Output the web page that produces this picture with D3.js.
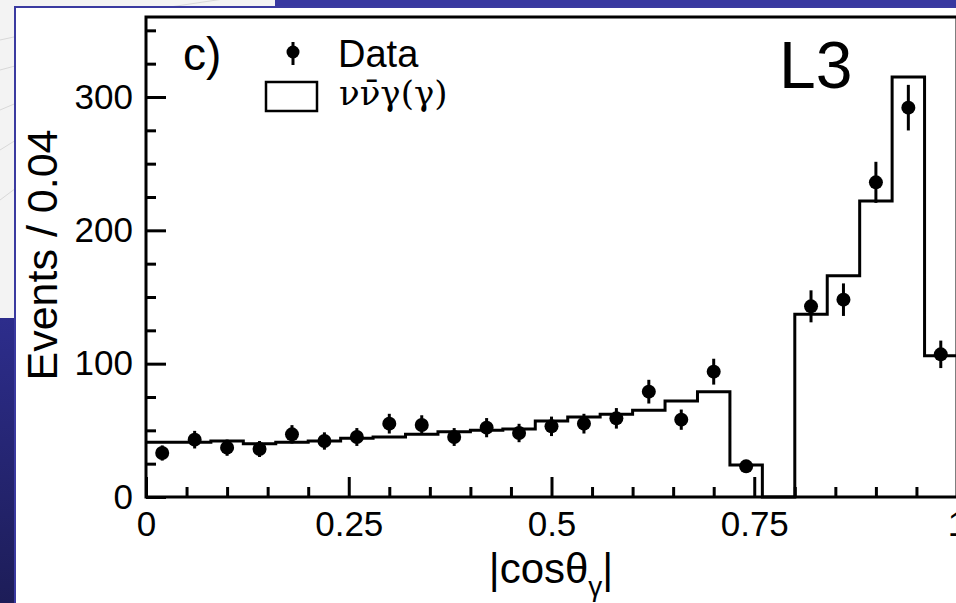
<!DOCTYPE html>
<html><head><meta charset="utf-8">
<script src="https://cdn.jsdelivr.net/npm/d3@7"></script>
<style>
html,body{margin:0;padding:0;background:#fff;overflow:hidden;}
svg{display:block;}
text{font-family:"Liberation Sans",Arial,Helvetica,sans-serif;fill:#000;}
</style></head>
<body>
<svg id="chart" width="956" height="603"></svg>
<script>
// ---- data ----
const binCenters = [0.02,0.06,0.10,0.14,0.18,0.22,0.26,0.30,0.34,0.38,0.42,0.46,0.50,0.54,0.58,0.62,0.66,0.70,0.74,0.78,0.82,0.86,0.90,0.94,0.98];
const binWidth = 0.04;
const mcValues = [41,41,42,40,41,42,44,45,47,49,50,51,57,60,62,65,72,79,24,0,137,166,222,315,106];
const dataValues = [33,43,37,36,47,42,45,55,54,45,52,48,53,55,59,79,58,94,23,null,143,148,236,292,107];
const dataErrors = [5.7,6.6,6.1,6.0,6.9,6.5,6.7,7.4,7.3,6.7,7.2,6.9,7.3,7.4,7.7,8.9,7.6,9.7,4.8,null,12.0,12.2,15.4,17.1,10.3];
const xMajorTicks = [0,0.25,0.5,0.75,1];
const xTickLabels = ["0","0.25","0.5","0.75","1"];
const xMinorTicks = [0.05,0.1,0.15,0.2,0.3,0.35,0.4,0.45,0.55,0.6,0.65,0.7,0.8,0.85,0.9,0.95];
const yMajorTicks = [0,100,200,300];
const yMinorTicks = [25,50,75,125,150,175,225,250,275,325,350];
const legendLabels = ["Data","νν\u0304γ(γ)"];

const svg = d3.select("#chart");

// ---- slide background ----
const defs = svg.append("defs");
const g1 = defs.append("linearGradient").attr("id","blueGrad").attr("x1",0).attr("y1",0).attr("x2",0).attr("y2",1);
g1.append("stop").attr("offset","0%").attr("stop-color","#2d2d8c");
g1.append("stop").attr("offset","100%").attr("stop-color","#1d1d58");
svg.append("rect").attr("x",0).attr("y",0).attr("width",956).attr("height",603).attr("fill","#f3f3f3");
[[0,40,300,-10],[0,70,300,5],[0,110,200,40],[0,150,120,90],[0,200,60,170]].forEach(p=>{
  svg.append("path").attr("d",`M${p[0]},${p[1]} Q${p[2]/2},${(p[1]+p[3])/2-10} ${p[2]},${p[3]}`)
    .attr("fill","none").attr("stroke","#d8d8d8").attr("stroke-width",1);
});
svg.append("rect").attr("x",275).attr("y",0).attr("width",681).attr("height",7).attr("fill","#3838a0");
svg.append("rect").attr("x",0).attr("y",318).attr("width",15).attr("height",285).attr("fill","url(#blueGrad)");
svg.append("rect").attr("x",15).attr("y",6).attr("width",945).attr("height",600).attr("fill","#ffffff");
svg.append("line").attr("x1",15).attr("x2",956).attr("y1",7).attr("y2",7).attr("stroke","#3a3aa0").attr("stroke-width",2);
svg.append("line").attr("x1",15).attr("x2",15).attr("y1",6).attr("y2",603).attr("stroke","#3a3aa0").attr("stroke-width",2);

// ---- scales ----
const x = d3.scaleLinear().domain([0,1]).range([146,957]);
const y = d3.scaleLinear().domain([0,360]).range([497,17]);

// ---- histogram (MC) ----
const stepPts = [];
binCenters.forEach((c,i)=>{
  stepPts.push([c-binWidth/2, mcValues[i]]);
  stepPts.push([c+binWidth/2, mcValues[i]]);
});
svg.append("path").datum(stepPts)
  .attr("d", d3.line().x(d=>x(d[0])).y(d=>y(d[1])))
  .attr("fill","none").attr("stroke","#000").attr("stroke-width",3).attr("stroke-linejoin","miter");

// ---- axes ----
const axisStyle = g => {
  g.select(".domain").remove();
  g.selectAll(".tick line").attr("stroke","#000").attr("stroke-width",3);
  g.selectAll(".tick text").style("font-size","35px").attr("fill","#000");
};
svg.append("g").attr("transform",`translate(${x(0)},0)`)
  .call(d3.axisLeft(y).tickValues(yMajorTicks).tickSize(-20).tickPadding(13).tickFormat(d3.format("d")))
  .call(axisStyle);
svg.append("g").attr("transform",`translate(${x(0)},0)`)
  .call(d3.axisLeft(y).tickValues(yMinorTicks).tickSize(-10).tickFormat(""))
  .call(axisStyle);
svg.append("g").attr("transform",`translate(0,${y(0)})`)
  .call(d3.axisBottom(x).tickValues(xMajorTicks).tickSize(-20).tickPadding(14).tickFormat((d,i)=>xTickLabels[i]))
  .call(axisStyle);
svg.append("g").attr("transform",`translate(0,${y(0)})`)
  .call(d3.axisBottom(x).tickValues(xMinorTicks).tickSize(-10).tickFormat(""))
  .call(axisStyle);

// frame
svg.append("path")
  .attr("d",`M${x(1)},${y(0)} L${x(0)},${y(0)} L${x(0)},${y(360)} L${x(1)},${y(360)} Z`)
  .attr("fill","none").attr("stroke","#000").attr("stroke-width",3);

// ---- data points ----
const pts = binCenters.map((c,i)=>({c, v:dataValues[i], e:dataErrors[i]})).filter(d=>d.v!==null);
svg.append("g").selectAll("line").data(pts).join("line")
  .attr("x1",d=>x(d.c)).attr("x2",d=>x(d.c))
  .attr("y1",d=>y(d.v-d.e)).attr("y2",d=>y(d.v+d.e))
  .attr("stroke","#000").attr("stroke-width",3);
svg.append("g").selectAll("circle").data(pts).join("circle")
  .attr("cx",d=>x(d.c)).attr("cy",d=>y(d.v)).attr("r",7).attr("fill","#000");

// ---- labels ----
svg.append("text").attr("x",183).attr("y",70).style("font-size","46px").text("c)");
svg.append("text").attr("x",779).attr("y",88).style("font-size","66px").text("L3");

// legend
svg.append("line").attr("x1",293).attr("x2",293).attr("y1",42).attr("y2",65).attr("stroke","#000").attr("stroke-width",3);
svg.append("circle").attr("cx",293).attr("cy",52).attr("r",6.5).attr("fill","#000");
svg.append("text").attr("x",338).attr("y",67).style("font-size","38px").text(legendLabels[0]);
svg.append("rect").attr("x",266).attr("y",82).attr("width",51).attr("height",29)
  .attr("fill","none").attr("stroke","#000").attr("stroke-width",2.5);
svg.append("text").attr("x",339).attr("y",105)
  .style("font-family","'DejaVu Serif','Liberation Serif',serif").style("font-size","34px").text(legendLabels[1]);

// axis titles
svg.append("text").attr("transform","translate(57,255) rotate(-90)").attr("text-anchor","middle")
  .style("font-size","43px").text("Events / 0.04");
const xt = svg.append("text").attr("x",551).attr("y",583).attr("text-anchor","middle").style("font-size","42px");
xt.append("tspan").text("|cosθ");
xt.append("tspan").attr("dy",13).style("font-size","28px").text("γ");
xt.append("tspan").attr("dy",-13).text("|");
</script>
</body></html>
